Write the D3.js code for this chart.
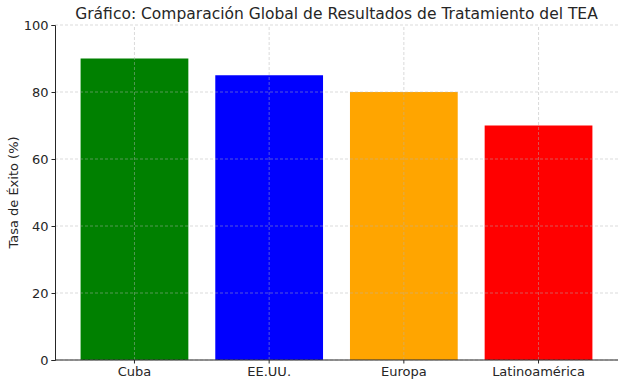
<!DOCTYPE html>
<html>
<head>
<meta charset="utf-8">
<script src="https://cdn.jsdelivr.net/npm/d3@7"></script>
<style>
body { margin: 0; background: #fff; }
text { font-family: "DejaVu Sans", sans-serif; fill: #262626; }
</style>
</head>
<body>
<div id="chart"></div>
<script>
var regions = ["Cuba", "EE.UU.", "Europa", "Latinoamérica"];
var successRate = [90, 85, 80, 70];
var barColors = ["green", "blue", "orange", "red"];
var yTicks = [0, 20, 40, 60, 80, 100];

var W = 624, H = 384;
var margin = {top: 25, right: 6, bottom: 24, left: 55};

var svg = d3.select("#chart").append("svg")
  .attr("width", W)
  .attr("height", H);

var x = d3.scaleBand()
  .domain(regions)
  .range([margin.left, W - margin.right])
  .paddingInner(0.2)
  .paddingOuter(0.19);

var y = d3.scaleLinear()
  .domain([0, 100])
  .range([H - margin.bottom, margin.top]);

// bars
svg.append("g").selectAll("rect")
  .data(regions)
  .enter().append("rect")
  .attr("x", function(d){ return x(d); })
  .attr("width", x.bandwidth())
  .attr("y", function(d, i){ return y(successRate[i]); })
  .attr("height", function(d, i){ return y(0) - y(successRate[i]); })
  .attr("fill", function(d, i){ return barColors[i]; });

// grid on top of bars
var grid = svg.append("g").attr("class", "grid");
grid.selectAll("line.h")
  .data(yTicks)
  .enter().append("line")
  .attr("x1", margin.left).attr("x2", W - margin.right)
  .attr("y1", function(d){ return y(d); })
  .attr("y2", function(d){ return y(d); });
grid.selectAll("line.v")
  .data(regions)
  .enter().append("line")
  .attr("x1", function(d){ return x(d) + x.bandwidth() / 2; })
  .attr("x2", function(d){ return x(d) + x.bandwidth() / 2; })
  .attr("y1", y(0)).attr("y2", y(100));
grid.selectAll("line")
  .attr("stroke", "#b0b0b0")
  .attr("stroke-opacity", 0.6)
  .attr("stroke-width", 0.8)
  .attr("stroke-dasharray", "3,2");

// axes
var xaxis = d3.axisBottom(x).tickSize(3.5).tickPadding(3);
var yaxis = d3.axisLeft(y).tickValues(yTicks).tickSize(3.5).tickPadding(3);

var gx = svg.append("g")
  .attr("transform", "translate(0," + y(0) + ")")
  .call(xaxis);
gx.select(".domain").attr("d", "M" + margin.left + ",0H" + (W - margin.right));

var gy = svg.append("g")
  .attr("transform", "translate(" + margin.left + ",0)")
  .call(yaxis);

svg.selectAll(".domain").attr("stroke", "#262626").attr("stroke-width", 1);
svg.selectAll(".tick line").attr("stroke", "#262626");
svg.selectAll(".tick text").style("font-size", "13px").style("font-family", "DejaVu Sans, sans-serif").attr("fill", "#262626");

// labels
svg.append("text")
  .attr("x", (margin.left + W - margin.right) / 2)
  .attr("y", 19)
  .attr("text-anchor", "middle")
  .style("font-size", "15.5px")
  .text("Gráfico: Comparación Global de Resultados de Tratamiento del TEA");

svg.append("text")
  .attr("transform", "translate(18," + ((margin.top + H - margin.bottom) / 2) + ") rotate(-90)")
  .attr("text-anchor", "middle")
  .style("font-size", "13px")
  .text("Tasa de Éxito (%)");
</script>
</body>
</html>
